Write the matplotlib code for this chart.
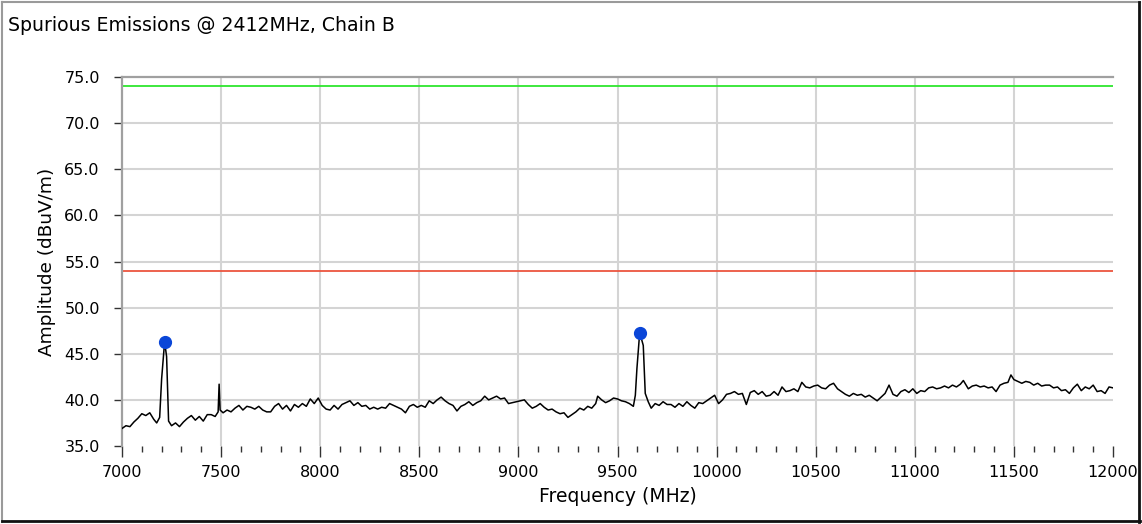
import matplotlib
matplotlib.use('Agg')
import matplotlib.pyplot as plt
from matplotlib.lines import Line2D
from matplotlib.ticker import MultipleLocator

# spectrum trace, MHz / dBuV/m
freq = [7000, 7020, 7040, 7060, 7080, 7100, 7120, 7140, 7160, 7175, 7190, 7200, 7215, 7225, 7235,
        7250, 7270, 7290, 7310, 7330, 7350, 7370, 7390, 7410, 7430, 7450, 7470, 7485, 7490, 7495,
        7510, 7530, 7550, 7570, 7590, 7610, 7630, 7650, 7670, 7690, 7710, 7730, 7750, 7770, 7790,
        7810, 7830, 7850, 7870, 7890, 7910, 7930, 7950, 7970, 7990, 8010, 8030, 8050, 8070, 8090,
        8110, 8130, 8150, 8170, 8190, 8210, 8230, 8250, 8270, 8290, 8310, 8330, 8350, 8370, 8390,
        8410, 8430, 8450, 8470, 8490, 8510, 8530, 8550, 8570, 8590, 8610, 8630,
        8650, 8670, 8690, 8710, 8730, 8750, 8770, 8790, 8810, 8830, 8850, 8870, 8890, 8910, 8930,
        8950, 8970, 8990, 9010, 9030, 9050, 9070, 9090, 9110, 9130, 9150, 9170, 9190, 9210, 9230,
        9250, 9270, 9290, 9310, 9330, 9350, 9370, 9390, 9400, 9420, 9440, 9460,
        9480, 9500, 9520, 9540, 9560, 9580, 9590, 9598, 9612, 9630, 9640, 9655, 9670, 9690, 9710,
        9730, 9750, 9770, 9790, 9810, 9830, 9850, 9870, 9890, 9910, 9930, 9950, 9970, 9990, 10010,
        10030, 10050, 10070, 10090, 10110, 10130, 10150, 10170, 10190, 10210, 10230, 10250, 10270, 10290,
        10310, 10330, 10350, 10370, 10390, 10410, 10430, 10450, 10470, 10490, 10510, 10530, 10550,
        10570, 10590, 10610, 10630, 10650, 10670, 10690, 10710, 10730, 10750, 10770, 10790, 10810,
        10830, 10850, 10870, 10890, 10910, 10930, 10950, 10970, 10990, 11010, 11030, 11050, 11070,
        11090, 11110,
        11130, 11150, 11170, 11190, 11210, 11230, 11245, 11270, 11290, 11310, 11330, 11350, 11370,
        11390, 11410, 11430, 11450, 11470, 11485, 11500, 11520, 11540, 11560, 11580, 11600, 11620,
        11640, 11660, 11680, 11700, 11720, 11740, 11760, 11780, 11800, 11820, 11840, 11860, 11880,
        11900, 11920, 11940, 11960, 11980, 12000]
amp = [36.9, 37.2, 37.1, 37.6, 38.0, 38.5, 38.3, 38.6, 37.9, 37.5, 38.1, 42.3, 46.3, 44.7, 37.7,
       37.2, 37.5, 37.1, 37.6, 38.0, 38.3, 37.8, 38.2, 37.7, 38.4, 38.4, 38.2, 38.7, 41.7, 38.9,
       38.6, 38.9, 38.7, 39.1, 39.4, 38.9, 39.3, 39.2, 39.0, 39.3, 38.9, 38.7, 38.7, 39.3, 39.6,
       39.0, 39.4, 38.8, 39.5, 39.2, 39.6, 39.3, 40.1, 39.6, 40.2, 39.4, 39.0, 38.9, 39.4, 39.0,
       39.5, 39.7, 39.9, 39.4, 39.7, 39.3, 39.4, 39.0, 39.2, 39.0, 39.2, 39.1, 39.6, 39.4, 39.2,
       39.0, 38.6, 39.3, 39.5, 39.2, 39.4, 39.2, 39.9, 39.6, 40.0, 40.3, 39.9,
       39.6, 39.4, 38.8, 39.3, 39.5, 39.8, 39.4, 39.7, 39.9, 40.4, 40.0, 40.2, 40.4, 40.1, 40.2,
       39.6, 39.7, 39.8, 39.9, 40.0, 39.5, 39.1, 39.3, 39.6, 39.2, 38.9, 39.0, 38.7, 38.5, 38.6,
       38.1, 38.4, 38.7, 39.1, 38.9, 39.3, 39.1, 39.6, 40.4, 40.0, 39.7, 39.9,
       40.2, 40.1, 39.9, 39.8, 39.6, 39.3, 40.5, 43.4, 47.3, 45.9, 40.7, 39.8, 39.1, 39.6, 39.4,
       39.8, 39.5, 39.5, 39.2, 39.6, 39.3, 39.8, 39.4, 39.1, 39.7, 39.6, 39.9, 40.2, 40.5, 39.6,
       40.0, 40.6, 40.7, 40.9, 40.6, 40.7, 39.5, 40.8, 41.0, 40.6, 40.9, 40.4, 40.5, 40.9,
       40.5, 41.4, 40.9, 41.0, 41.2, 40.9, 41.9, 41.4, 41.3, 41.5, 41.6, 41.3, 41.2,
       41.6, 41.8, 41.2, 40.9, 40.6, 40.4, 40.7, 40.5, 40.6, 40.3, 40.5, 40.2, 39.9,
       40.3, 40.7, 41.6, 40.6, 40.4, 40.9, 41.1, 40.8, 41.2, 40.7, 41.0, 40.9, 41.3,
       41.4, 41.2,
       41.3, 41.5, 41.3, 41.6, 41.4, 41.7, 42.1, 41.2, 41.5, 41.6, 41.4, 41.5, 41.3,
       41.4, 40.9, 41.6, 41.8, 41.9, 42.7, 42.2, 42.0, 41.8, 42.0, 41.9, 41.6, 41.8,
       41.5, 41.6, 41.6, 41.3, 41.4, 41.0, 41.1, 40.7, 41.3, 41.7, 41.0, 41.4, 41.2,
       41.6, 40.9, 41.0, 40.7, 41.4, 41.3]

# marked peaks
peak_freq = [7215, 9612]
peak_amp = [46.3, 47.3]

# limit lines
avg_limit = 54.0
peak_limit = 74.0

x_ticks = [7000, 7500, 8000, 8500, 9000, 9500, 10000, 10500, 11000, 11500, 12000]
y_ticks = [35.0, 40.0, 45.0, 50.0, 55.0, 60.0, 65.0, 70.0, 75.0]

plt.rcParams['font.family'] = ['DejaVu Sans']

fig = plt.figure(figsize=(11.42, 5.24), dpi=100)
ax = fig.add_axes([122 / 1142, 1 - 446 / 524, 991 / 1142, 369 / 524])

for xv in x_ticks[1:-1]:
    ax.axvline(xv, color='#d4d4d4', linewidth=1.5, zorder=0)
for yv in y_ticks[1:-1]:
    ax.axhline(yv, color='#d4d4d4', linewidth=1.5, zorder=0)

ax.axhline(peak_limit, color='#2ee62e', linewidth=1.3, zorder=2)
ax.axhline(avg_limit, color='#ec553f', linewidth=1.3, zorder=2)
ax.plot(freq, amp, color='black', linewidth=1.1, zorder=3)
ax.plot(peak_freq, peak_amp, 'o', color='#0a46d8', markersize=8.5, zorder=4)

ax.set_xlim(7000, 12000)
ax.set_ylim(35, 75)
ax.set_xticks(x_ticks)
ax.set_yticks(y_ticks)
ax.set_yticklabels(['%.1f' % v for v in y_ticks])
ax.xaxis.set_minor_locator(MultipleLocator(100))

for side in ['right', 'bottom']:
    ax.spines[side].set_visible(False)
for side in ['top', 'left']:
    ax.spines[side].set_color('#a0a0a0')
    ax.spines[side].set_linewidth(1.6)

ax.tick_params(axis='y', direction='out', length=6, width=1, color='#333333',
               labelsize=11.5, pad=10)
ax.tick_params(axis='x', which='major', direction='out', length=8, width=1,
               color='#333333', labelsize=11.5, pad=6)
ax.tick_params(axis='x', which='minor', direction='out', length=4, width=1,
               color='#333333')

ax.set_xlabel('Frequency (MHz)', fontsize=13.5, labelpad=5)
ax.set_ylabel('Amplitude (dBuV/m)', fontsize=13.3, labelpad=6)

fig.text(8 / 1142, 1 - 31 / 524, 'Spurious Emissions @ 2412MHz, Chain B', fontsize=13.6,
         ha='left', va='baseline')

# sunken frame around the panel
fig.add_artist(Line2D([2 / 1142, 2 / 1142], [2 / 524, 1 - 2 / 524], color='#9a9a9a', linewidth=1.5))
fig.add_artist(Line2D([2 / 1142, 1 - 2 / 1142], [1 - 2 / 524, 1 - 2 / 524], color='#9a9a9a', linewidth=1.5))
fig.add_artist(Line2D([1 - 3 / 1142, 1 - 3 / 1142], [2 / 524, 1 - 2 / 524], color='#111111', linewidth=2))
fig.add_artist(Line2D([2 / 1142, 1 - 2 / 1142], [3 / 524, 3 / 524], color='#111111', linewidth=2))

fig.savefig('out.png', dpi=100)
